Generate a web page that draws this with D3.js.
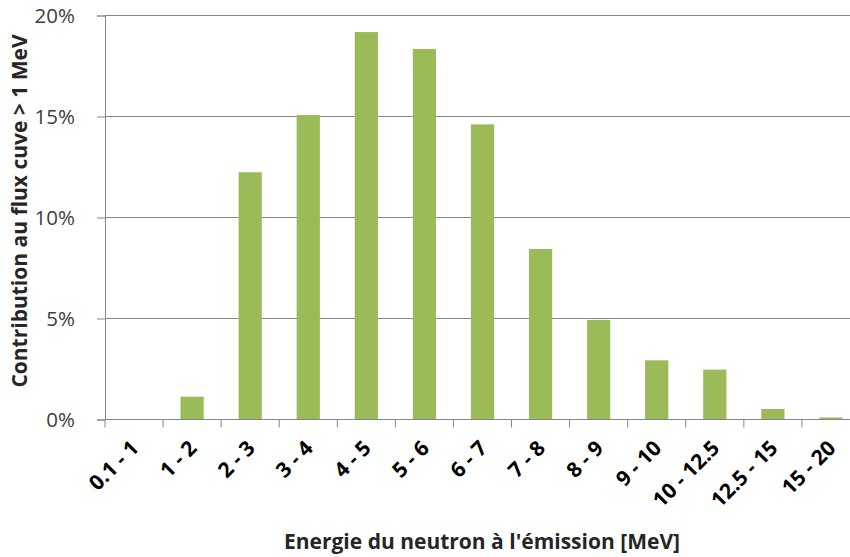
<!DOCTYPE html>
<html><head><meta charset="utf-8">
<script src="https://cdn.jsdelivr.net/npm/d3@7"></script>
<style>body{margin:0;background:#fff}svg{display:block}</style>
</head><body>
<script>
const categories = ["0.1 - 1","1 - 2","2 - 3","3 - 4","4 - 5","5 - 6","6 - 7","7 - 8","8 - 9","9 - 10","10 - 12.5","12.5 - 15","15 - 20"];
const values = [0, 1.13, 12.24, 15.07, 19.18, 18.34, 14.61, 8.44, 4.93, 2.93, 2.47, 0.52, 0.1];
const yTicks = [0, 5, 10, 15, 20];
const xTitle = "Energie du neutron à l'émission [MeV]";
const yTitle = "Contribution au flux cuve > 1 MeV";

const W = 850, H = 557;
const mLeft = 105, mRight = 860, mTop = 15.5, mBottom = 419.5;
const svg = d3.select("body").append("svg").attr("width", W).attr("height", H);
const font = "'Open Sans', sans-serif";

const x = d3.scaleBand().domain(categories).range([mLeft, mRight]).paddingInner(0.6).paddingOuter(0.3);
const y = d3.scaleLinear().domain([0, 20]).range([mBottom, mTop]);

// gridlines
svg.append("g").selectAll("line").data(yTicks.filter(d => d > 0)).join("line")
  .attr("x1", mLeft).attr("x2", mRight)
  .attr("y1", d => y(d)).attr("y2", d => y(d))
  .attr("stroke", "#868686").attr("stroke-width", 1);

// bars
svg.append("g").selectAll("rect").data(values).join("rect")
  .attr("x", (d, i) => x(categories[i]))
  .attr("width", x.bandwidth())
  .attr("y", d => y(d))
  .attr("height", d => mBottom - y(d))
  .attr("fill", "#9BBB59");

// y axis
const yAxis = svg.append("g").attr("transform", `translate(${mLeft},0)`)
  .call(d3.axisLeft(y).tickValues(yTicks).tickSize(8).tickPadding(22).tickFormat(d => d + "%"));
yAxis.select(".domain").attr("stroke", "#868686");
yAxis.selectAll(".tick line").attr("stroke", "#868686");
yAxis.selectAll("text").attr("font-family", font).attr("font-size", 20.5).attr("fill", "#404040");

// x axis
const step = x.step();
const bounds = d3.range(categories.length + 1).map(i => mLeft + i * step);
svg.append("line").attr("x1", mLeft).attr("x2", mRight).attr("y1", mBottom).attr("y2", mBottom)
  .attr("stroke", "#868686");
svg.append("g").selectAll("line").data(bounds).join("line")
  .attr("x1", d => d).attr("x2", d => d).attr("y1", mBottom).attr("y2", mBottom + 8)
  .attr("stroke", "#868686");
svg.append("g").selectAll("text").data(categories).join("text")
  .attr("transform", d => `translate(${x(d) + x.bandwidth() / 2 + 6},${mBottom + 30}) rotate(-45)`)
  .attr("text-anchor", "end")
  .attr("font-family", font).attr("font-weight", "bold").attr("font-size", 21)
  .attr("fill", "#000")
  .text(d => d);

// titles
svg.append("text").attr("x", 482).attr("y", 549).attr("text-anchor", "middle")
  .attr("font-family", font).attr("font-weight", "bold").attr("font-size", 21).attr("fill", "#262626")
  .text(xTitle);
svg.append("text").attr("transform", "translate(27,211) rotate(-90)").attr("text-anchor", "middle")
  .attr("font-family", font).attr("font-weight", "bold").attr("font-size", 21).attr("fill", "#262626")
  .text(yTitle);
</script>
</body></html>
